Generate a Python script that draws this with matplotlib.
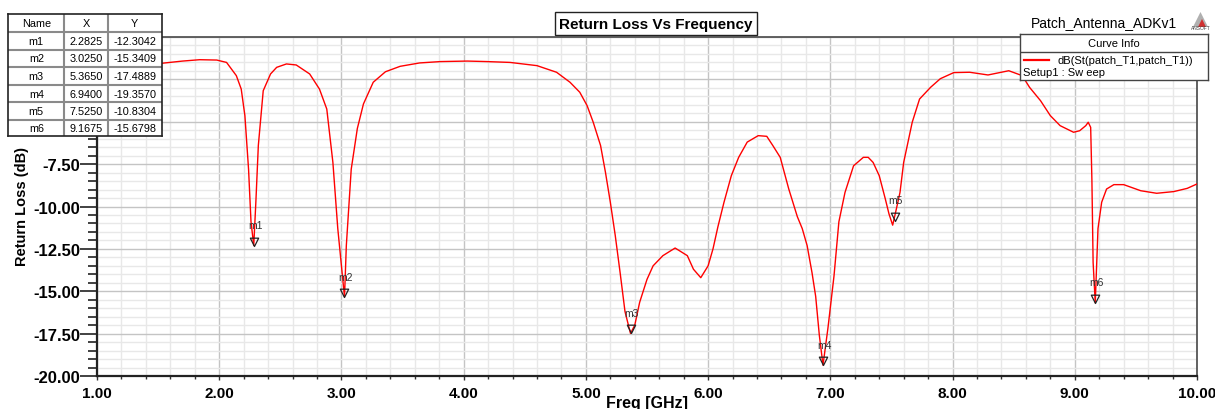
import matplotlib
matplotlib.use("Agg")
import numpy as np
from matplotlib import pyplot as plt
from matplotlib.path import Path
from matplotlib.patches import Polygon
from matplotlib.ticker import MultipleLocator, FuncFormatter

# S11
freq = [1.00, 1.30, 1.53, 1.70, 1.84, 1.98, 2.06, 2.14, 2.18, 2.21, 2.24, 2.26,
        2.2825, 2.30, 2.32, 2.36, 2.42, 2.47, 2.55, 2.63, 2.74, 2.82, 2.88, 2.93,
        2.97, 3.025, 3.04, 3.08, 3.13, 3.18, 3.26, 3.36, 3.48, 3.64, 3.81, 4.03,
        4.19, 4.38, 4.60, 4.76, 4.87, 4.95, 5.01, 5.06, 5.12, 5.16, 5.20, 5.24,
        5.28, 5.32, 5.365, 5.40, 5.44, 5.50, 5.55, 5.63, 5.73, 5.83, 5.88, 5.94,
        6.00, 6.04, 6.08, 6.13, 6.19, 6.25, 6.32, 6.41, 6.48, 6.53, 6.59, 6.66,
        6.73, 6.77, 6.81, 6.85, 6.88, 6.91, 6.94, 6.98, 7.03, 7.07, 7.12, 7.19,
        7.27, 7.31, 7.35, 7.40, 7.45, 7.48, 7.51, 7.54, 7.57, 7.60, 7.67, 7.73,
        7.82, 7.90, 8.01, 8.14, 8.29, 8.46, 8.57, 8.63, 8.72, 8.80, 8.88, 8.99,
        9.04, 9.09, 9.11, 9.13, 9.14, 9.15, 9.1675, 9.19, 9.22, 9.26, 9.32, 9.40,
        9.54, 9.67, 9.81, 9.92, 10.00]
s11 = [-1.62, -1.58, -1.55, -1.42, -1.34, -1.36, -1.50, -2.28, -3.07, -4.64, -7.80, -10.9,
       -12.30, -9.7, -6.4, -3.17, -2.18, -1.79, -1.59, -1.65, -2.18, -3.07, -4.25, -7.4,
       -11.3, -15.34, -12.3, -7.8, -5.4, -3.95, -2.67, -2.05, -1.73, -1.53, -1.45, -1.42,
       -1.45, -1.50, -1.69, -2.08, -2.67, -3.26, -4.05, -5.03, -6.40, -7.98, -9.75, -11.7,
       -13.9, -16.2, -17.49, -17.0, -15.65, -14.3, -13.5, -12.9, -12.45, -12.9, -13.7, -14.2,
       -13.5, -12.5, -11.2, -9.75, -8.18, -7.1, -6.2, -5.82, -5.86, -6.41, -7.1, -8.97,
       -10.6, -11.3, -12.3, -13.9, -15.3, -17.6, -19.36, -17.2, -14.1, -10.9, -9.17, -7.6,
       -7.1, -7.1, -7.4, -8.18, -9.56, -10.44, -11.1, -10.15, -9.17, -7.4, -5.03, -3.66,
       -2.97, -2.46, -2.10, -2.08, -2.24, -1.99, -2.28, -2.97, -3.76, -4.64, -5.23, -5.62,
       -5.53, -5.23, -5.03, -5.33, -8.4, -13.3, -15.68, -11.3, -9.75, -8.97, -8.71, -8.71,
       -9.07, -9.22, -9.12, -8.93, -8.67]

marker_names = ["m1", "m2", "m3", "m4", "m5", "m6"]
marker_x = [2.2825, 3.0250, 5.3650, 6.9400, 7.5250, 9.1675]
marker_y = [-12.3042, -15.3409, -17.4889, -19.3570, -10.8304, -15.6798]

W, H = 1215, 410
plt.rcParams["font.family"] = ["Liberation Sans", "DejaVu Sans"]


def fx(px):
    return px / W


def fy(py):
    return 1 - py / H


fig = plt.figure(figsize=(W / 100, H / 100), dpi=100)
ax = fig.add_axes([fx(97), fy(377), fx(1197) - fx(97), fy(38) - fy(377)])

ax.plot(freq, s11, color="#ff0000", lw=1.0, zorder=3)

# down-pointing triangle with its tip on the point
tri = Path([(-1, 2), (1, 2), (0, 0), (-1, 2)],
           [Path.MOVETO, Path.LINETO, Path.LINETO, Path.CLOSEPOLY])
ax.plot(marker_x, marker_y, ls="none", marker=tri, ms=12, mfc="none",
        mec="#222222", mew=0.9, zorder=4)
for n, x, y in zip(marker_names, marker_x, marker_y):
    ax.annotate(n, (x, y), xytext=(1, 11), textcoords="offset points",
                ha="center", va="bottom", fontsize=7.5, color="#333333", zorder=5)

ax.set_xlim(1, 10)
ax.set_ylim(-20, 0)
ax.xaxis.set_major_locator(MultipleLocator(1))
ax.xaxis.set_minor_locator(MultipleLocator(0.2))
ax.yaxis.set_major_locator(MultipleLocator(2.5))
ax.yaxis.set_minor_locator(MultipleLocator(0.5))
ax.xaxis.set_major_formatter(FuncFormatter(lambda v, p: "%.2f" % v))
# labels above -7.5 sit under the marker table in the original
ax.yaxis.set_major_formatter(FuncFormatter(lambda v, p: "%.2f" % v if v < -6 else ""))
ax.grid(which="major", color="#c4c4c4", lw=1.0)
ax.grid(which="minor", color="#e8e8e8", lw=1.0)
ax.set_axisbelow(True)

ax.tick_params(axis="y", which="major", length=12, width=1.3, pad=0, color="#333333")
ax.tick_params(axis="y", which="minor", length=6.5, width=1.3, color="#333333")
ax.tick_params(axis="x", which="major", length=3, width=1.0, pad=4, color="#333333")
ax.tick_params(axis="x", which="minor", length=2.5, width=1.0, color="#333333")
for lab in ax.get_xticklabels():
    lab.set_fontweight("bold")
    lab.set_fontsize(11)
for lab in ax.get_yticklabels():
    lab.set_fontweight("bold")
    lab.set_fontsize(12)

for side in ["left", "bottom"]:
    ax.spines[side].set_linewidth(1.6)
    ax.spines[side].set_color("#222222")
for side in ["top", "right"]:
    ax.spines[side].set_linewidth(1.3)
    ax.spines[side].set_color("#555555")

fig.text(fx(22), fy(207), "Return Loss (dB)", rotation=90, ha="center",
         va="center", fontsize=10.5, fontweight="bold")
fig.text(fx(647), fy(404), "Freq [GHz]", ha="center", va="center",
         fontsize=11.5, fontweight="bold")

# title box
fig.text(fx(656), fy(24.5), "Return Loss Vs Frequency", ha="center", va="center",
         fontsize=11, fontweight="bold",
         bbox=dict(boxstyle="square,pad=0.3", fc="white", ec="#222222", lw=1.0))

fig.text(fx(1177), fy(23), "Patch_Antenna_ADKv1", ha="right", va="center", fontsize=10)

# little logo in the corner
fig.patches.append(Polygon([[fx(1193), fy(28)], [fx(1208), fy(28)], [fx(1200.5), fy(13)]],
                           closed=True, transform=fig.transFigure, fc="#b0b0b0",
                           ec="none"))
fig.patches.append(Polygon([[fx(1198), fy(28)], [fx(1206), fy(28)], [fx(1202), fy(20)]],
                           closed=True, transform=fig.transFigure, fc="#d03030",
                           ec="none"))
fig.text(fx(1200.5), fy(28.5), "ANSOFT", ha="center", va="center", fontsize=3.5,
         color="#444444")

# curve info box
leg = fig.add_axes([fx(1020), fy(80.5), fx(1208) - fx(1020), fy(35) - fy(80.5)])
leg.set_xlim(1020, 1208)
leg.set_ylim(80.5, 35)
leg.set_xticks([])
leg.set_yticks([])
for s in leg.spines.values():
    s.set_color("#444444")
    s.set_linewidth(1.0)
leg.axhline(52.7, color="#444444", lw=1.0)
leg.text(1114, 44, "Curve Info", ha="center", va="center", fontsize=8)
leg.plot([1024, 1049], [60.7, 60.7], color="#ff0000", lw=1.6)
leg.text(1057, 60.7, "dB(St(patch_T1,patch_T1))", ha="left", va="center", fontsize=8)
leg.text(1023, 73, "Setup1 : Sw eep", ha="left", va="center", fontsize=8)

# marker table
col_edges = [8.3, 64.3, 107.7, 161.7]
row_edges = [15, 32.7, 50.7, 68.3, 86, 103.3, 120.7, 137.3]
tab = fig.add_axes([fx(8.3), fy(137.3), fx(161.7) - fx(8.3), fy(15) - fy(137.3)])
tab.set_xlim(col_edges[0], col_edges[-1])
tab.set_ylim(row_edges[-1], row_edges[0])
tab.set_xticks([])
tab.set_yticks([])
for s in tab.spines.values():
    s.set_color("#222222")
    s.set_linewidth(1.2)
for c in col_edges[1:-1]:
    tab.axvline(c, color="#8a8a8a", lw=1.5)
for r in row_edges[1:-1]:
    tab.axhline(r, color="#8a8a8a", lw=1.5)

header = ["Name", "X", "Y"]
rows = [[n, "%.4f" % x, "%.4f" % y] for n, x, y in zip(marker_names, marker_x, marker_y)]
for i, row in enumerate([header] + rows):
    yc = (row_edges[i] + row_edges[i + 1]) / 2
    for j, txt in enumerate(row):
        xc = (col_edges[j] + col_edges[j + 1]) / 2
        tab.text(xc, yc, txt, ha="center", va="center", fontsize=7.8)

fig.savefig("out.png", dpi=100)
